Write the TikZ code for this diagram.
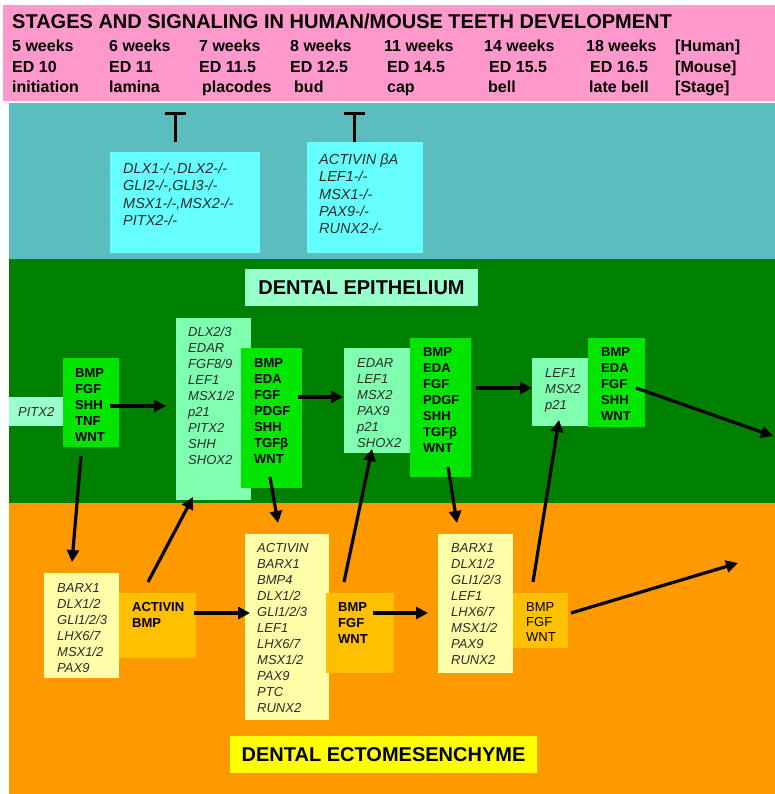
\documentclass[tikz,border=0pt]{standalone}
\usepackage{fontspec}
\setmainfont{Liberation Sans}
\usetikzlibrary{arrows.meta}
\definecolor{headpink}{HTML}{FF99CC}
\definecolor{mutantteal}{HTML}{5BBDBD}
\definecolor{mutantcyan}{HTML}{66FFFF}
\definecolor{epigreen}{HTML}{008000}
\definecolor{mintlabel}{HTML}{99FFCC}
\definecolor{mintbox}{HTML}{80FFB0}
\definecolor{sigbox}{HTML}{00E600}
\definecolor{mesorange}{HTML}{FF9900}
\definecolor{paleyellow}{HTML}{FFFFAA}
\definecolor{sigorange}{HTML}{FFC000}
\definecolor{labelyellow}{HTML}{FFFF00}
\definecolor{genegray}{HTML}{2A2A2A}
\tikzset{
  tile/.style={anchor=north west,inner sep=0pt,outer sep=0pt},
  genes/.style={anchor=north west,inner sep=0pt,align=left,text=genegray,font=\fontsize{13}{16}\selectfont\itshape},
  signals/.style={anchor=north west,inner sep=0pt,align=left,font=\fontsize{13}{16}\selectfont\bfseries},
  mutants/.style={anchor=north west,inner sep=0pt,align=left,text=genegray,font=\fontsize{14.5}{17.3}\selectfont\itshape},
  stagecol/.style={anchor=north west,inner sep=0pt,align=left,font=\fontsize{16}{20.3}\selectfont\bfseries},
  tissue/.style={inner sep=0pt,font=\fontsize{20}{24}\selectfont\bfseries},
  sig/.style={line width=3.2pt,-{Triangle[length=12pt,width=12pt]}},
  inhibit/.style={line width=3pt,-{Bar[width=21pt,line width=3pt]}}
}
\begin{document}
\begin{tikzpicture}[x=1pt,y=-1pt]
\useasboundingbox (0,0) rectangle (775,794);
% bands
\fill[headpink] (3,5) rectangle (775,101);
\fill[mutantteal] (9,103) rectangle (775,259);
\fill[epigreen] (9,259) rectangle (775,503);
\fill[mesorange] (9,503) rectangle (775,794);
% header
\node[anchor=north west,inner sep=0pt,font=\fontsize{20}{24}\selectfont\bfseries] (title) at (12,13.8) {STAGES AND SIGNALING IN HUMAN/MOUSE TEETH DEVELOPMENT};
\node[stagecol] (cone) at (12,40) {5 weeks\\ED 10\\initiation};
\node[stagecol] (ctwo) at (109,40) {6 weeks\\ED 11\\lamina};
\node[stagecol] (cthree) at (199,40) {7 weeks\\ED 11.5\\\hspace{3pt}placodes};
\node[stagecol] (cfour) at (290,40) {8 weeks\\ED 12.5\\\hspace{4pt}bud};
\node[stagecol] (cfive) at (384,40) {11 weeks\\\hspace{3pt}ED 14.5\\\hspace{3pt}cap};
\node[stagecol] (csix) at (484,40) {14 weeks\\\hspace{5pt}ED 15.5\\\hspace{4pt}bell};
\node[stagecol] (cseven) at (586,40) {18 weeks\\\hspace{4pt}ED 16.5\\\hspace{3pt}late bell};
\node[stagecol] (ceight) at (675,40) {[Human]\\[0pt][Mouse]\\[0pt][Stage]};
% knockouts
\node[tile,fill=mutantcyan,minimum width=150pt,minimum height=101pt] (tone) at (110,152) {};
\node[tile,fill=mutantcyan,minimum width=116pt,minimum height=111pt] (ttwo) at (307,142) {};
\node[mutants] (tonetxt) at (123,162.8) {DLX1-/-,DLX2-/-\\GLI2-/-,GLI3-/-\\MSX1-/-,MSX2-/-\\PITX2-/-};
\node[mutants] (ttwotxt) at (319,153.8) {ACTIVIN βA\\LEF1-/-\\MSX1-/-\\PAX9-/-\\RUNX2-/-};
\draw[inhibit] ([shift={(-10,-10)}]tone.north) -- ([shift={(-10,-40)}]tone.north);
\draw[inhibit] ([shift={(-11,0)}]ttwo.north) -- ([shift={(-11,-30)}]ttwo.north);
% epithelium
\node[tissue,fill=mintlabel,minimum width=233pt,minimum height=37pt] (epi) at (361.5,287.5) {DENTAL EPITHELIUM};
\node[tile,fill=mintlabel,minimum width=54pt,minimum height=29pt] (pitx) at (9,397) {};
\node[genes] (pitxtxt) at (18,407.3) {PITX2};
\node[tile,fill=sigbox,minimum width=56pt,minimum height=89pt] (gone) at (63,358) {};
\node[tile,fill=mintbox,minimum width=75pt,minimum height=182pt] (mtwo) at (176,318) {};
\node[tile,fill=sigbox,minimum width=61pt,minimum height=140pt] (gtwo) at (241,348) {};
\node[tile,fill=mintbox,minimum width=66pt,minimum height=105pt] (mthree) at (344,348) {};
\node[tile,fill=sigbox,minimum width=61pt,minimum height=139pt] (gthree) at (410,338) {};
\node[tile,fill=mintbox,minimum width=56pt,minimum height=68pt] (mfour) at (532,358) {};
\node[tile,fill=sigbox,minimum width=57pt,minimum height=89pt] (gfour) at (588,338) {};
\node[signals] (gonetxt) at (75,368) {BMP\\FGF\\SHH\\TNF\\WNT};
\node[genes] (mtwotxt) at (188,327) {DLX2/3\\EDAR\\FGF8/9\\LEF1\\MSX1/2\\p21\\PITX2\\SHH\\SHOX2};
\node[signals] (gtwotxt) at (254,358) {BMP\\EDA\\FGF\\PDGF\\SHH\\TGFβ\\WNT};
\node[genes] (mthreetxt) at (357,358) {EDAR\\LEF1\\MSX2\\PAX9\\p21\\SHOX2};
\node[signals] (gthreetxt) at (423,347) {BMP\\EDA\\FGF\\PDGF\\SHH\\TGFβ\\WNT};
\node[genes] (mfourtxt) at (545,368) {LEF1\\MSX2\\p21};
\node[signals] (gfourtxt) at (601,347) {BMP\\EDA\\FGF\\SHH\\WNT};
% ectomesenchyme
\node[tile,fill=paleyellow,minimum width=75pt,minimum height=105pt] (yone) at (44,573) {};
\node[tile,fill=sigorange,minimum width=77pt,minimum height=65pt] (oone) at (119,593) {};
\node[tile,fill=paleyellow,minimum width=84pt,minimum height=186pt] (ytwo) at (245,534) {};
\node[tile,fill=sigorange,minimum width=68pt,minimum height=80pt] (otwo) at (326,593) {};
\node[tile,fill=paleyellow,minimum width=75pt,minimum height=139pt] (ythree) at (438,534) {};
\node[tile,fill=sigorange,minimum width=55pt,minimum height=55pt] (othree) at (513,593) {};
\node[genes] (yonetxt) at (57,583) {BARX1\\DLX1/2\\GLI1/2/3\\LHX6/7\\MSX1/2\\PAX9};
\node[signals] (oonetxt) at (132,602) {ACTIVIN\\BMP};
\node[genes] (ytwotxt) at (257,543) {ACTIVIN\\BARX1\\BMP4\\DLX1/2\\GLI1/2/3\\LEF1\\LHX6/7\\MSX1/2\\PAX9\\PTC\\RUNX2};
\node[signals] (otwotxt) at (338,602) {BMP\\FGF\\WNT};
\node[genes] (ythreetxt) at (451,543) {BARX1\\DLX1/2\\GLI1/2/3\\LEF1\\LHX6/7\\MSX1/2\\PAX9\\RUNX2};
\node[signals,font=\fontsize{13}{15}\selectfont] (othreetxt) at (526,602) {BMP\\FGF\\WNT};
\node[tissue,fill=labelyellow,minimum width=307pt,minimum height=37pt] (ecto) at (383.5,754.5) {DENTAL ECTOMESENCHYME};
% signalling
\coordinate (rimhigh) at (773,436);
\coordinate (rimlow) at (738,563);
\draw[sig] ([shift={(-9,3.5)}]gone.east) -- ([shift={(-10,-3)}]mtwo.west);
\draw[sig] ([shift={(-4,-21)}]gtwo.east) -- ([shift={(-1,-3.5)}]mthree.west);
\draw[sig] ([shift={(5,-19.5)}]gthree.east) -- ([shift={(0,-4)}]mfour.west);
\draw[sig] ([shift={(-9,5.5)}]gfour.east) -- (rimhigh);
\draw[sig] ([shift={(-10,9)}]gone.south) -- ([shift={(-9.5,-11)}]yone.north);
\draw[sig] ([shift={(-9.5,-11)}]oone.north) -- ([shift={(-20.5,-3)}]mtwo.south);
\draw[sig] ([shift={(-1.5,-11)}]gtwo.south) -- ([shift={(-9,-11)}]ytwo.north);
\draw[sig] ([shift={(-16,-11)}]otwo.north) -- ([shift={(-5,-4)}]mthree.south);
\draw[sig] ([shift={(7.5,-10)}]gthree.south) -- ([shift={(-18.5,-11)}]ythree.north);
\draw[sig] ([shift={(-7.5,-11)}]othree.north) -- ([shift={(-1,-6)}]mfour.south);
\draw[sig] ([shift={(3,-7.5)}]othree.east) -- (rimlow);
\draw[sig] ([shift={(-2,-12.5)}]oone.east) -- ([shift={(5,-14)}]ytwo.west);
\draw[sig] ([shift={(-21,-20)}]otwo.east) -- ([shift={(-10,9.5)}]ythree.west);
\end{tikzpicture}
\end{document}
